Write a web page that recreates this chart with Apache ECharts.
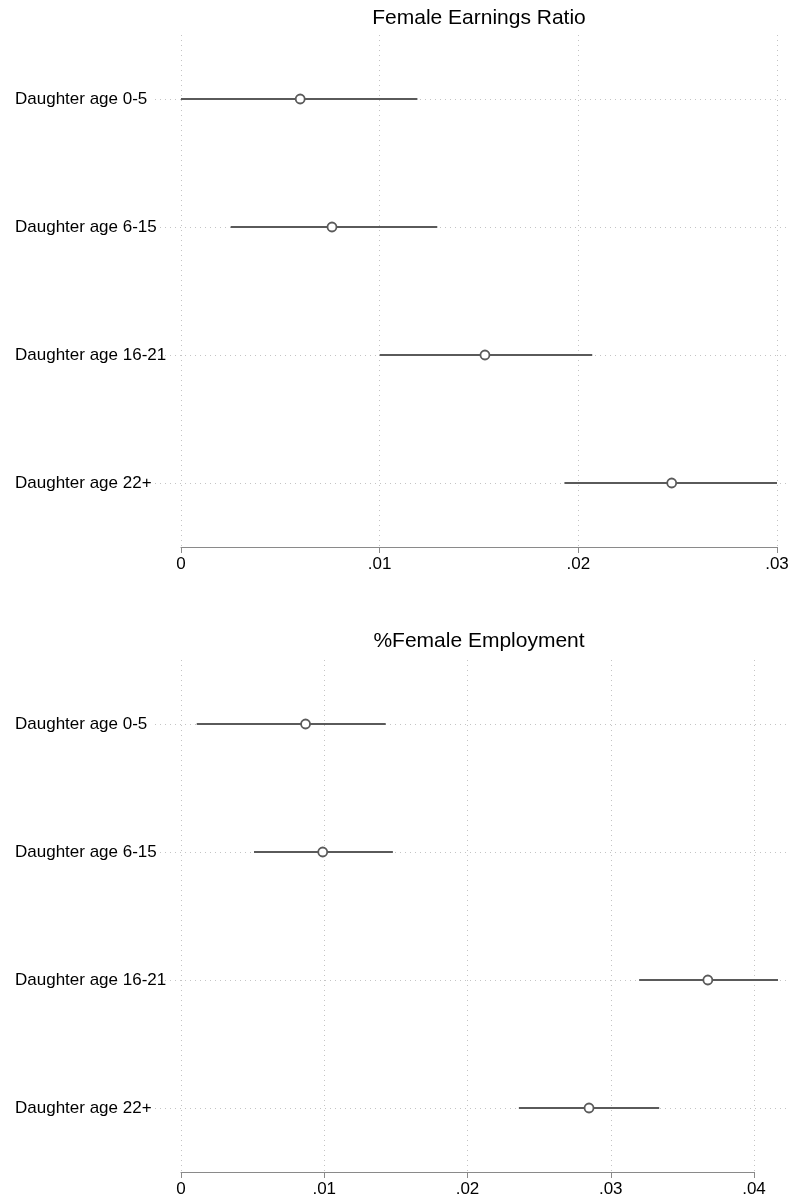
<!DOCTYPE html>
<html>
<head>
<meta charset="utf-8">
<script src="https://cdn.jsdelivr.net/npm/echarts@6/dist/echarts.min.js"></script>
<style>html,body{margin:0;padding:0;background:#fff}#c{width:794px;height:1202px}</style>
</head>
<body>
<div id="c"></div>
<script>
const categories = ['Daughter age 0-5', 'Daughter age 6-15', 'Daughter age 16-21', 'Daughter age 22+'];
const earnPoint = [0.0060, 0.0076, 0.0153, 0.0247];
const earnLow   = [0.0000, 0.0025, 0.0100, 0.0193];
const earnHigh  = [0.0119, 0.0129, 0.0207, 0.0300];
const empPoint  = [0.0087, 0.0099, 0.0368, 0.0285];
const empLow    = [0.0011, 0.0051, 0.0320, 0.0236];
const empHigh   = [0.0143, 0.0148, 0.0417, 0.0334];
const earnTicks = ['0', '.01', '.02', '.03'];
const empTicks  = ['0', '.01', '.02', '.03', '.04'];
const titles = ['Female Earnings Ratio', '%Female Employment'];

const FONT = '"Liberation Sans", Arial, Helvetica, sans-serif';
const LINE = '#5a5a5a';
const GRIDC = '#c4c4c4';
const halfSteps = ['', '', '', '', '', '', '', '', ''];

function tickFmt(ticks) {
  return function (v) { return ticks[Math.round(v / 0.01)] || ''; };
}
function bgY(gi) {
  return {
    gridIndex: gi, type: 'category', data: halfSteps, boundaryGap: false, inverse: true,
    axisLine: {show: false}, axisTick: {show: false}, axisLabel: {show: false},
    splitLine: {show: true, interval: function (i) { return i % 2 === 1; },
      lineStyle: {color: GRIDC, type: [1, 4], width: 1}}
  };
}
function dataY(gi) {
  return {
    gridIndex: gi, type: 'category', data: categories, inverse: true, boundaryGap: true,
    axisLine: {show: false}, axisTick: {show: false}, splitLine: {show: false},
    axisLabel: {align: 'left', margin: 166, color: '#000', fontSize: 17, fontFamily: FONT}
  };
}
function visX(gi, max, ticks) {
  return {
    gridIndex: gi, type: 'value', min: 0, max: max, interval: 0.01,
    axisLine: {show: true, lineStyle: {color: '#8a8a8a', width: 1}},
    axisTick: {show: true, length: 6, lineStyle: {color: '#8a8a8a'}},
    axisLabel: {formatter: tickFmt(ticks), color: '#000', fontSize: 17, fontFamily: FONT, margin: 9},
    splitLine: {show: true, lineStyle: {color: GRIDC, type: [1, 4], width: 1}}
  };
}
function ciSeries(xi, yi, lo, hi) {
  return {
    type: 'custom', xAxisIndex: xi, yAxisIndex: yi, z: 3,
    data: categories.map((c, i) => [lo[i], hi[i], i]),
    encode: {x: [0, 1], y: 2},
    renderItem: function (params, api) {
      const y = api.value(2);
      const a = api.coord([api.value(0), y]);
      const b = api.coord([api.value(1), y]);
      return {type: 'line', shape: {x1: a[0], y1: a[1], x2: b[0], y2: b[1]},
        style: {stroke: LINE, lineWidth: 2}};
    }
  };
}
function ptSeries(xi, yi, pts) {
  return {
    type: 'scatter', xAxisIndex: xi, yAxisIndex: yi, z: 4,
    data: categories.map((c, i) => [pts[i], c]),
    symbol: 'circle', symbolSize: 9,
    itemStyle: {color: '#fff', borderColor: LINE, borderWidth: 1.8, opacity: 1}
  };
}

const chart = echarts.init(document.getElementById('c'), null, {renderer: 'canvas'});
chart.setOption({
  animation: false,
  backgroundColor: '#fff',
  grid: [
    {left: 155, top: 35, width: 635, height: 512},
    {left: 181, top: 35, width: 596, height: 512},
    {left: 155, top: 660, width: 635, height: 512},
    {left: 181, top: 660, width: 573, height: 512},
    {left: 181, top: 660, width: 597, height: 512}
  ],
  xAxis: [
    {gridIndex: 0, type: 'value', show: false},
    visX(1, 0.03, earnTicks),
    {gridIndex: 2, type: 'value', show: false},
    visX(3, 0.04, empTicks),
    {gridIndex: 4, type: 'value', min: 0, max: 0.0417, show: false}
  ],
  yAxis: [
    bgY(0),
    dataY(1),
    bgY(2),
    {gridIndex: 3, type: 'category', data: categories, inverse: true, show: false},
    dataY(4)
  ],
  graphic: [
    {type: 'text', x: 479, y: 18, style: {text: titles[0], textAlign: 'center', textVerticalAlign: 'middle', fontSize: 21, fontFamily: FONT, fill: '#000'}},
    {type: 'text', x: 479, y: 641, style: {text: titles[1], textAlign: 'center', textVerticalAlign: 'middle', fontSize: 21, fontFamily: FONT, fill: '#000'}}
  ],
  series: [
    ciSeries(1, 1, earnLow, earnHigh),
    ptSeries(1, 1, earnPoint),
    ciSeries(4, 4, empLow, empHigh),
    ptSeries(4, 4, empPoint)
  ]
});
</script>
</body>
</html>
